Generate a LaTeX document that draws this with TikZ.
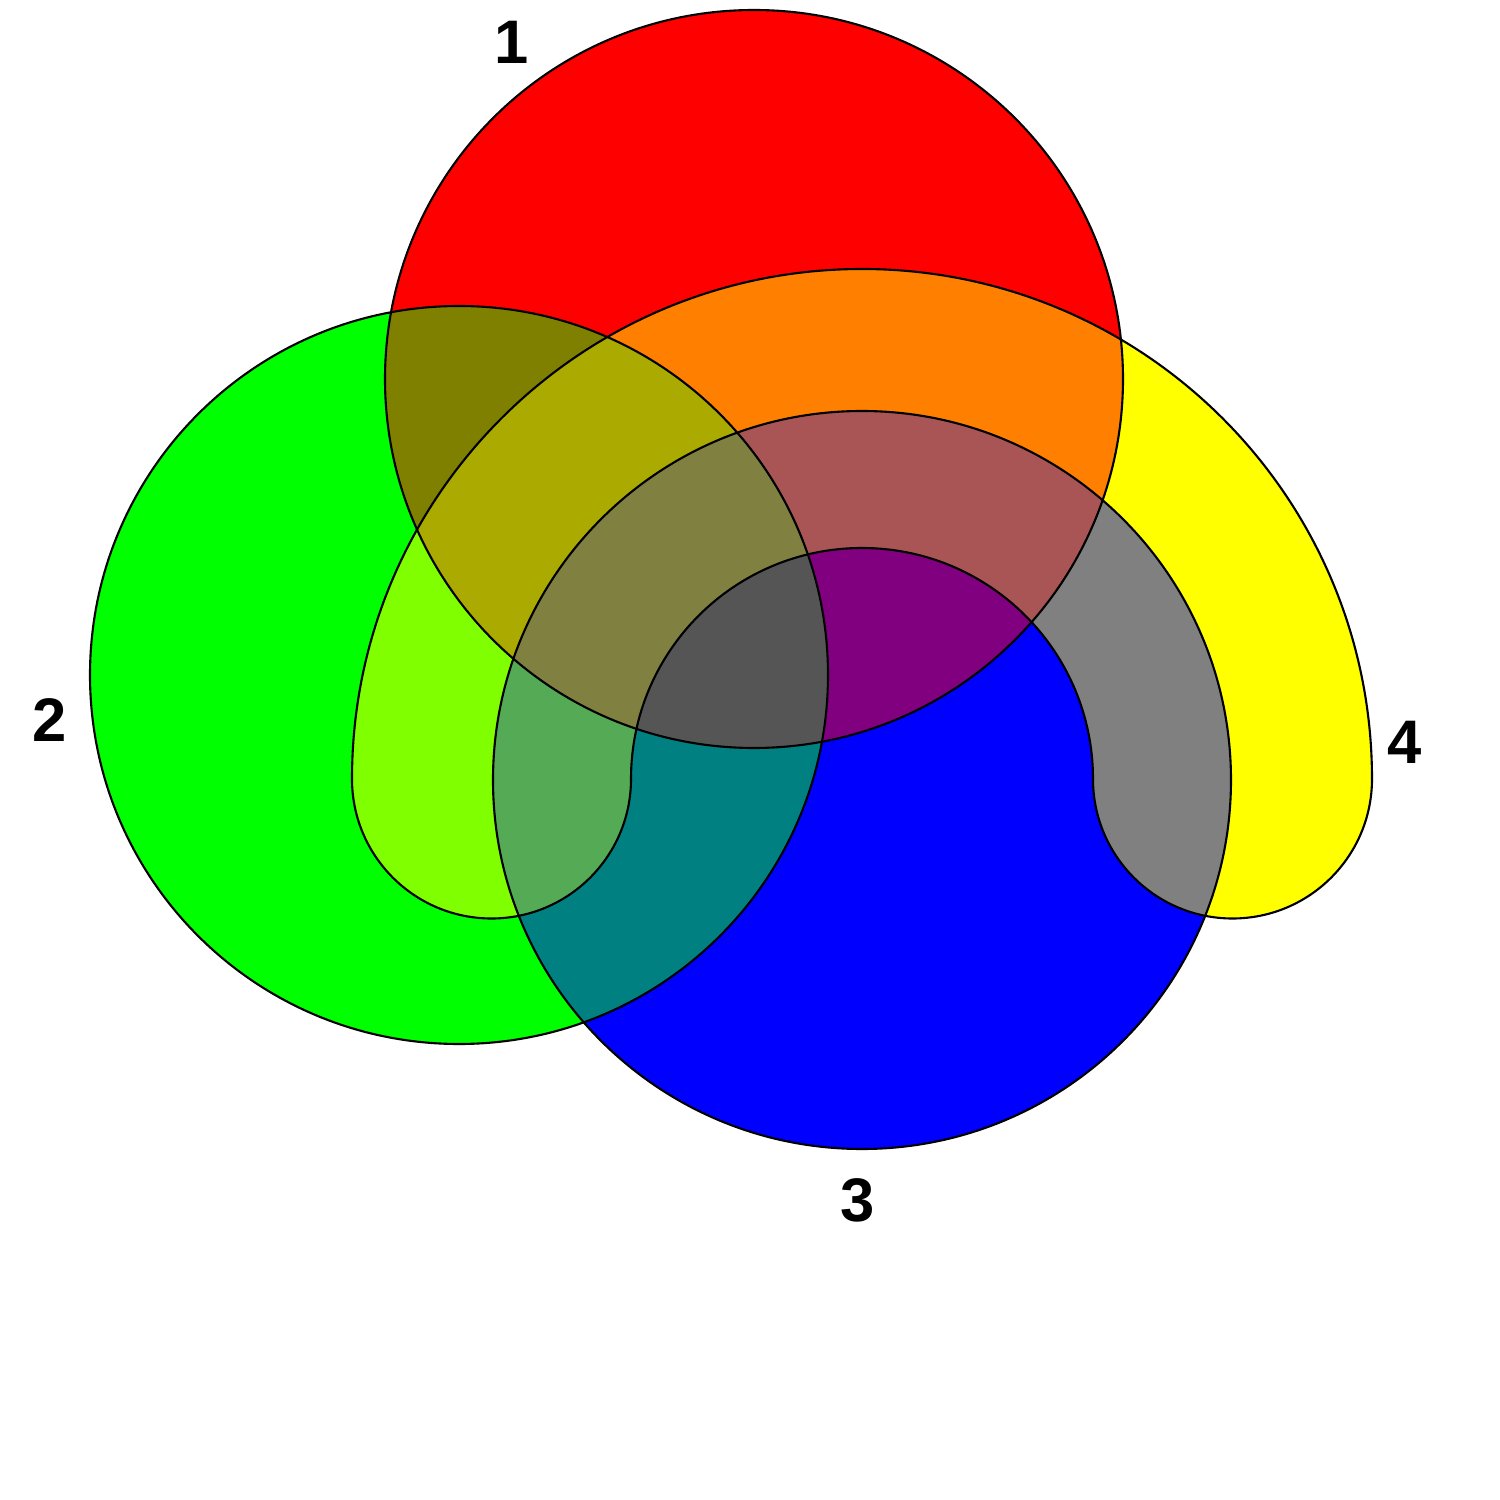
\documentclass[tikz,border=0pt]{standalone}
\usepackage{fontspec}
\setmainfont{Liberation Sans}
\usepackage{xcolor}
\usepackage{tikz}
\usetikzlibrary{positioning}
% set colours, regions take the mean of their sets
\definecolor{cone}{HTML}{FF0000}
\definecolor{ctwo}{HTML}{00FF00}
\definecolor{cthree}{HTML}{0000FF}
\definecolor{cfour}{HTML}{FFFF00}
\definecolor{conetwo}{HTML}{808000}
\definecolor{conethree}{HTML}{800080}
\definecolor{conefour}{HTML}{FF8000}
\definecolor{ctwothree}{HTML}{008080}
\definecolor{ctwofour}{HTML}{80FF00}
\definecolor{cthreefour}{HTML}{808080}
\definecolor{conetwothree}{HTML}{555555}
\definecolor{conetwofour}{HTML}{AAAA00}
\definecolor{conethreefour}{HTML}{AA5555}
\definecolor{ctwothreefour}{HTML}{55AA55}
\definecolor{call}{HTML}{808040}
\newcommand{\circleone}{(7.54,11.21) circle (3.69)}
\newcommand{\circletwo}{(4.59,8.25) circle (3.69)}
\newcommand{\circlethree}{(8.62,7.20) circle (3.69)}
\newcommand{\horseshoe}{(3.52,7.21) arc[start angle=180, end angle=0, radius=5.10]
  arc[start angle=0, end angle=-180, radius=1.395]
  arc[start angle=0, end angle=180, radius=2.31]
  arc[start angle=0, end angle=-180, radius=1.395] -- cycle}
\newcommand{\paintregion}[2]{\begin{scope}#2\fill[#1] (0,0) rectangle (15,15);\end{scope}}

\begin{document}
\begin{tikzpicture}[
  outline/.style={draw=black, line width=0.6pt},
  setlabel/.style={font=\bfseries\fontsize{17.5}{20}\selectfont, inner sep=0pt}
]
  \useasboundingbox[fill=white] (0,0) rectangle (15,15);

  % single sets
  \fill[cone] \circleone;
  \fill[ctwo] \circletwo;
  \fill[cthree] \circlethree;
  \fill[cfour] \horseshoe;
  % pairs
  \paintregion{conetwo}{\clip \circleone; \clip \circletwo;}
  \paintregion{conethree}{\clip \circleone; \clip \circlethree;}
  \paintregion{conefour}{\clip \circleone; \clip \horseshoe;}
  \paintregion{ctwothree}{\clip \circletwo; \clip \circlethree;}
  \paintregion{ctwofour}{\clip \circletwo; \clip \horseshoe;}
  \paintregion{cthreefour}{\clip \circlethree; \clip \horseshoe;}
  % triples
  \paintregion{conetwothree}{\clip \circleone; \clip \circletwo; \clip \circlethree;}
  \paintregion{conetwofour}{\clip \circleone; \clip \circletwo; \clip \horseshoe;}
  \paintregion{conethreefour}{\clip \circleone; \clip \circlethree; \clip \horseshoe;}
  \paintregion{ctwothreefour}{\clip \circletwo; \clip \circlethree; \clip \horseshoe;}
  % all four
  \paintregion{call}{\clip \circleone; \clip \circletwo; \clip \circlethree; \clip \horseshoe;}

  \draw[outline] \circleone;
  \draw[outline] \circletwo;
  \draw[outline] \circlethree;
  \draw[outline] \horseshoe;

  \node[setlabel] (lone) at (5.12,14.58) {1};
  \node[setlabel] (ltwo) at (0.50,7.80) {2};
  \node[setlabel] (lthree) at (8.58,3.00) {3};
  \node[setlabel] (lfour) at (14.05,7.58) {4};
\end{tikzpicture}
\end{document}
